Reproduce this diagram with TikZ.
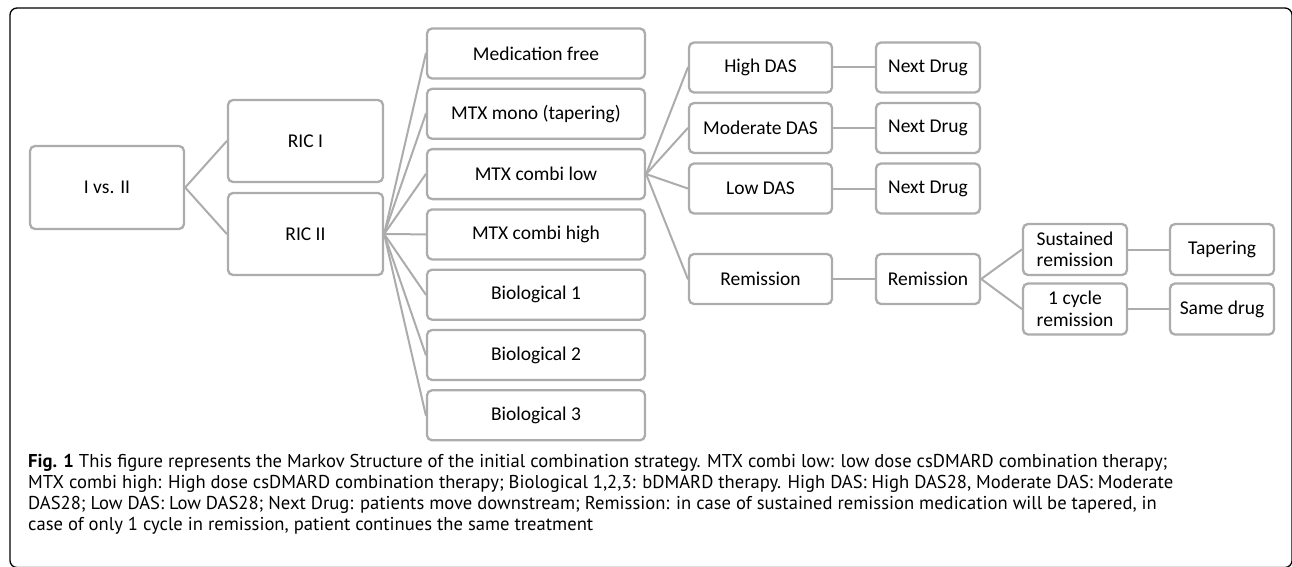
\documentclass[tikz,border=0pt]{standalone}
\usepackage{fontspec}
\setmainfont{Carlito}
\newfontfamily\capfont{PT Sans}
\usetikzlibrary{positioning}
\definecolor{boxgray}{RGB}{172,172,172}

\begin{document}
\begin{tikzpicture}[x=1pt,y=-1pt,line cap=round,line join=round,
  box/.style={draw=boxgray,line width=2.3pt,rounded corners=5pt,fill=white,align=center,inner sep=0pt,
    font=\fontsize{19.5}{21.5}\selectfont},
  conn/.style={draw=boxgray,line width=2pt}]
\path[use as bounding box] (0,0) rectangle (1292,567);
\begin{scope}
\clip (0,0) rectangle (1292,567);
\draw[line width=1.3pt,rounded corners=7pt] (10,8) rectangle (1292,567.5);
\end{scope}
% tree nodes
\node[box,minimum width=154pt,minimum height=83pt] (ivs) at (107,187.5) {I vs. II};
\node[box,minimum width=155pt,minimum height=82pt] (ric1) at (305.5,141) {RIC I};
\node[box,minimum width=155pt,minimum height=82pt] (ric2) at (305.5,234) {RIC II};
\node[box,minimum width=218pt,minimum height=50pt] (medfree) at (536,53.5) {Medication free};
\node[box,minimum width=218pt,minimum height=50pt] (mtxmono) at (536,113.8) {MTX mono (tapering)};
\node[box,minimum width=218pt,minimum height=50pt] (mtxlow) at (536,174.1) {MTX combi low};
\node[box,minimum width=218pt,minimum height=50pt] (mtxhigh) at (536,234.4) {MTX combi high};
\node[box,minimum width=218pt,minimum height=50pt] (bio1) at (536,294.7) {Biological 1};
\node[box,minimum width=218pt,minimum height=50pt] (bio2) at (536,355) {Biological 2};
\node[box,minimum width=218pt,minimum height=50pt] (bio3) at (536,415.3) {Biological 3};
\node[box,minimum width=143pt,minimum height=50pt] (highdas) at (760.5,67.5) {High DAS};
\node[box,minimum width=143pt,minimum height=50pt] (moddas) at (760.5,128) {Moderate DAS};
\node[box,minimum width=143pt,minimum height=50pt] (lowdas) at (760.5,188.5) {Low DAS};
\node[box,minimum width=143pt,minimum height=50pt] (rem1) at (760.5,279) {Remission};
\node[box,minimum width=104pt,minimum height=50pt] (next1) at (928,67.5) {Next Drug};
\node[box,minimum width=104pt,minimum height=50pt] (next2) at (928,128) {Next Drug};
\node[box,minimum width=104pt,minimum height=50pt] (next3) at (928,188.5) {Next Drug};
\node[box,minimum width=104pt,minimum height=50pt] (rem2) at (928,279) {Remission};
\node[box,minimum width=104pt,minimum height=51pt] (sustrem) at (1075,249.5) {Sustained\\remission};
\node[box,minimum width=104pt,minimum height=51pt] (cycrem) at (1075,309) {1 cycle\\remission};
\node[box,minimum width=104pt,minimum height=51pt] (taper) at (1222,249.5) {Tapering};
\node[box,minimum width=104pt,minimum height=51pt] (samedrug) at (1222,309) {Same drug};
% connectors
\draw[conn] (ric1.west) -- (ivs.east) -- (ric2.west);
\foreach \n in {medfree,mtxmono,mtxlow,mtxhigh,bio1,bio2,bio3}
  \draw[conn] (ric2.east) -- (\n.west);
\foreach \n in {highdas,moddas,lowdas,rem1}
  \draw[conn] (mtxlow.east) -- (\n.west);
\draw[conn] (highdas) -- (next1);
\draw[conn] (moddas) -- (next2);
\draw[conn] (lowdas) -- (next3);
\draw[conn] (rem1) -- (rem2);
\draw[conn] (sustrem.west) -- (rem2.east) -- (cycrem.west);
\draw[conn] (sustrem) -- (taper);
\draw[conn] (cycrem) -- (samedrug);
% caption
\node[anchor=north west,align=left,inner sep=0pt,font=\capfont\fontsize{18.6}{21}\selectfont] (caption) at (28,454)
  {\textbf{Fig. 1} This figure represents the Markov Structure of the initial combination strategy. MTX combi low: low dose csDMARD combination therapy;\\
  MTX combi high: High dose csDMARD combination therapy; Biological 1,2,3: bDMARD therapy. High DAS: High DAS28, Moderate DAS: Moderate\\
  DAS28; Low DAS: Low DAS28; Next Drug: patients move downstream; Remission: in case of sustained remission medication will be tapered, in\\
  case of only 1 cycle in remission, patient continues the same treatment};
\end{tikzpicture}
\end{document}
